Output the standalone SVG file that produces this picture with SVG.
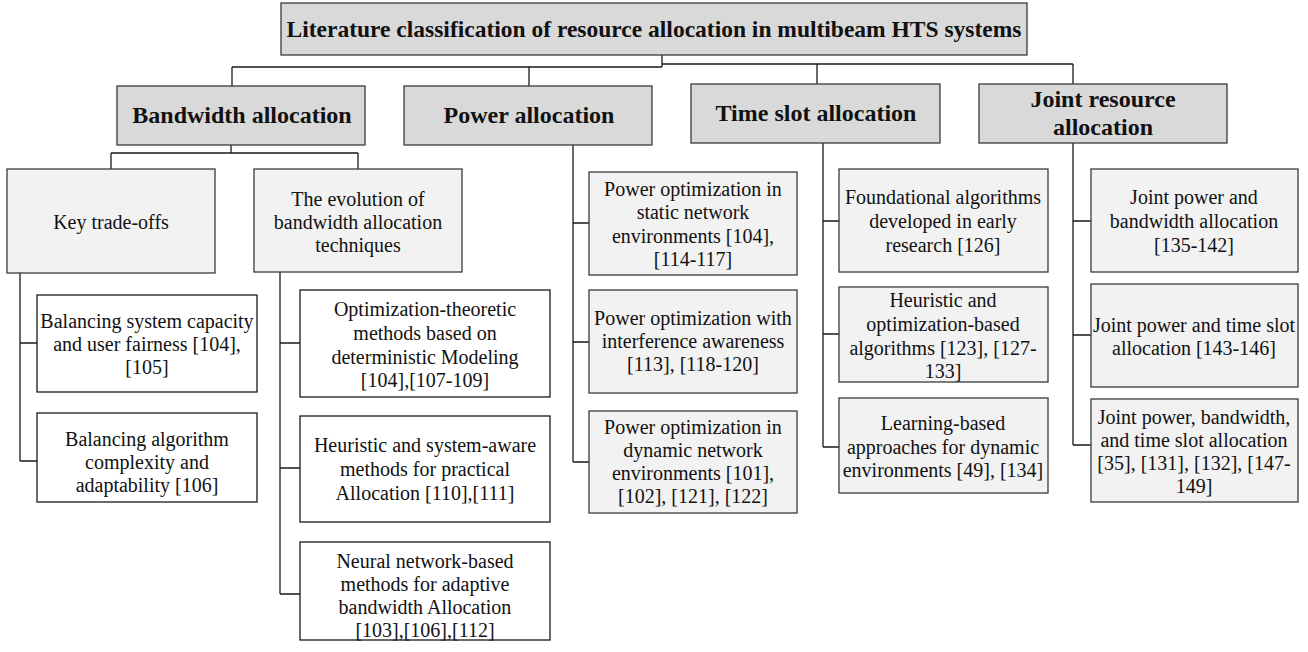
<svg xmlns="http://www.w3.org/2000/svg" width="1308" height="652" viewBox="0 0 1308 652">
  <style>
    .bg { fill: #ffffff; }
    .l1 { fill: #d9d9d9; stroke: #3a3a3a; stroke-width: 1.3; }
    .l2 { fill: #d9d9d9; stroke: #3a3a3a; stroke-width: 1.3; }
    .l3 { fill: #f2f2f2; stroke: #3a3a3a; stroke-width: 1.3; }
    .leaf { fill: #ffffff; stroke: #1a1a1a; stroke-width: 1.3; }
    .leafg { fill: #f2f2f2; stroke: #3a3a3a; stroke-width: 1.3; }
    .wire { fill: none; stroke: #1a1a1a; stroke-width: 1.3; }
    text { fill: #111111; text-anchor: middle; dominant-baseline: central; }
    .t1 { font-size: 23.5px; font-weight: bold; }
    .t2 { font-size: 24px; font-weight: bold; }
    .t3 { font-size: 20px; }
  </style>
  <rect class="bg" x="0" y="0" width="1308" height="652"/>

  <!-- connectors -->
  <g id="connectors">
    <!-- root to categories -->
    <path class="wire" d="M662 55 V67 M232 67 H662 M662 64 H1073 M232 67 V86 M529 67 V86 M817 64 V84 M1073 64 V84"/>
    <!-- bandwidth split -->
    <path class="wire" d="M231 145 V153 M111 153 H358 M111 153 V169 M358 153 V169"/>
    <!-- key trade-offs branch -->
    <path class="wire" d="M20 273 V461 M20 343 H37 M20 461 H37"/>
    <!-- evolution branch -->
    <path class="wire" d="M280 272 V594 M280 343 H300 M280 468 H300 M280 594 H300"/>
    <!-- power branch -->
    <path class="wire" d="M573 145 V462 M573 223 H589 M573 342 H589 M573 462 H589"/>
    <!-- time slot branch -->
    <path class="wire" d="M823 143 V447 M823 221 H839 M823 334 H839 M823 447 H839"/>
    <!-- joint branch -->
    <path class="wire" d="M1073 143 V445 M1073 221 H1091 M1073 335 H1091 M1073 445 H1091"/>
  </g>

  <g font-family="'Liberation Serif', 'Times New Roman', serif">
  <!-- root -->
  <g id="root">
    <rect class="l1" x="281" y="3" width="746" height="52"/>
    <text class="t1" x="654" y="29">Literature classification of resource allocation in multibeam HTS systems</text>
  </g>

  <!-- categories -->
  <g id="bandwidth">
    <rect class="l2" x="117" y="86" width="248" height="59"/>
    <text class="t2" x="242" y="115">Bandwidth allocation</text>
  </g>
  <g id="power">
    <rect class="l2" x="404" y="86" width="248" height="59"/>
    <text class="t2" x="529" y="115">Power allocation</text>
  </g>
  <g id="timeslot">
    <rect class="l2" x="691" y="84" width="249" height="59"/>
    <text class="t2" x="816" y="113">Time slot allocation</text>
  </g>
  <g id="joint">
    <rect class="l2" x="979" y="84" width="248" height="59"/>
    <text class="t2" x="1103" y="99">Joint resource</text>
    <text class="t2" x="1103" y="127">allocation</text>
  </g>

  <!-- bandwidth sub-groups -->
  <g id="tradeoffs">
    <rect class="l3" x="7" y="169" width="208" height="104"/>
    <text class="t3" x="111" y="222">Key trade-offs</text>
  </g>
  <g id="evolution">
    <rect class="l3" x="254" y="169" width="208" height="103"/>
    <text class="t3" x="358" y="199">The evolution of</text>
    <text class="t3" x="358" y="222">bandwidth allocation</text>
    <text class="t3" x="358" y="245">techniques</text>
  </g>

  <g id="tradeoff-capacity">
    <rect class="leaf" x="37" y="295" width="220" height="97"/>
    <text class="t3" x="147" y="321">Balancing system capacity</text>
    <text class="t3" x="147" y="344">and user fairness [104],</text>
    <text class="t3" x="147" y="367">[105]</text>
  </g>
  <g id="tradeoff-complexity">
    <rect class="leaf" x="37" y="413" width="220" height="89"/>
    <text class="t3" x="147" y="439">Balancing algorithm</text>
    <text class="t3" x="147" y="462">complexity and</text>
    <text class="t3" x="147" y="485">adaptability [106]</text>
  </g>

  <g id="evo-optimization">
    <rect class="leaf" x="300" y="290" width="250" height="107"/>
    <text class="t3" x="425" y="309">Optimization-theoretic</text>
    <text class="t3" x="425" y="333">methods based on</text>
    <text class="t3" x="425" y="357">deterministic Modeling</text>
    <text class="t3" x="425" y="380">[104],[107-109]</text>
  </g>
  <g id="evo-heuristic">
    <rect class="leaf" x="300" y="416" width="250" height="106"/>
    <text class="t3" x="425" y="445" font-size="21px">Heuristic and system-aware</text>
    <text class="t3" x="425" y="469">methods for practical</text>
    <text class="t3" x="425" y="493">Allocation [110],[111]</text>
  </g>
  <g id="evo-neural">
    <rect class="leaf" x="300" y="542" width="250" height="98"/>
    <text class="t3" x="425" y="561">Neural network-based</text>
    <text class="t3" x="425" y="584">methods for adaptive</text>
    <text class="t3" x="425" y="607">bandwidth Allocation</text>
    <text class="t3" x="425" y="630">[103],[106],[112]</text>
  </g>

  <!-- power leaves -->
  <g id="power-static">
    <rect class="leafg" x="589" y="172" width="208" height="103"/>
    <text class="t3" x="693" y="189">Power optimization in</text>
    <text class="t3" x="693" y="212">static network</text>
    <text class="t3" x="693" y="236">environments [104],</text>
    <text class="t3" x="693" y="259">[114-117]</text>
  </g>
  <g id="power-interference">
    <rect class="leafg" x="589" y="290" width="208" height="103"/>
    <text class="t3" x="693" y="318">Power optimization with</text>
    <text class="t3" x="693" y="341">interference awareness</text>
    <text class="t3" x="693" y="364">[113],  [118-120]</text>
  </g>
  <g id="power-dynamic">
    <rect class="leafg" x="589" y="411" width="208" height="102"/>
    <text class="t3" x="693" y="427">Power optimization in</text>
    <text class="t3" x="693" y="450">dynamic network</text>
    <text class="t3" x="693" y="473">environments [101],</text>
    <text class="t3" x="693" y="496">[102], [121], [122]</text>
  </g>

  <!-- time slot leaves -->
  <g id="time-foundational">
    <rect class="leafg" x="839" y="169" width="209" height="103"/>
    <text class="t3" x="943" y="197">Foundational algorithms</text>
    <text class="t3" x="943" y="221">developed in early</text>
    <text class="t3" x="943" y="245">research [126]</text>
  </g>
  <g id="time-heuristic">
    <rect class="leafg" x="839" y="287" width="209" height="95"/>
    <text class="t3" x="943" y="300">Heuristic and</text>
    <text class="t3" x="943" y="324">optimization-based</text>
    <text class="t3" x="943" y="348">algorithms [123], [127-</text>
    <text class="t3" x="943" y="371">133]</text>
  </g>
  <g id="time-learning">
    <rect class="leafg" x="839" y="398" width="209" height="95"/>
    <text class="t3" x="943" y="423">Learning-based</text>
    <text class="t3" x="943" y="447">approaches for dynamic</text>
    <text class="t3" x="943" y="470">environments [49], [134]</text>
  </g>

  <!-- joint leaves -->
  <g id="joint-power-bandwidth">
    <rect class="leafg" x="1091" y="169" width="207" height="103"/>
    <text class="t3" x="1194" y="197">Joint power and</text>
    <text class="t3" x="1194" y="221">bandwidth allocation</text>
    <text class="t3" x="1194" y="245">[135-142]</text>
  </g>
  <g id="joint-power-time">
    <rect class="leafg" x="1091" y="284" width="207" height="103"/>
    <text class="t3" x="1194" y="325">Joint power and time slot</text>
    <text class="t3" x="1194" y="348">allocation [143-146]</text>
  </g>
  <g id="joint-all">
    <rect class="leafg" x="1091" y="399" width="207" height="103"/>
    <text class="t3" x="1194" y="417">Joint power, bandwidth,</text>
    <text class="t3" x="1194" y="440">and time slot allocation</text>
    <text class="t3" x="1194" y="463">[35], [131], [132],  [147-</text>
    <text class="t3" x="1194" y="486">149]</text>
  </g>
  </g>
</svg>
